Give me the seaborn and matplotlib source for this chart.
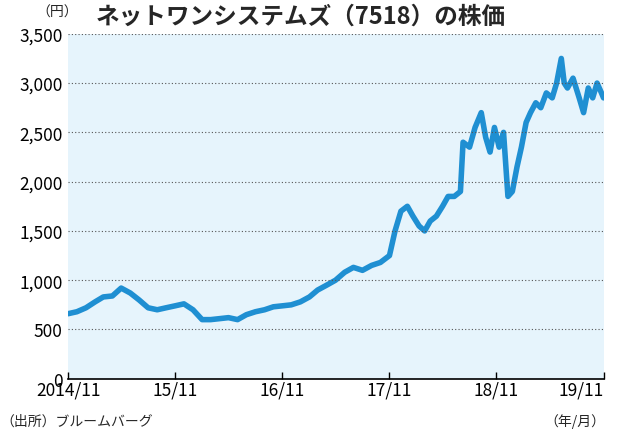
import pandas as pd
import matplotlib
matplotlib.use("Agg")
import matplotlib.pyplot as plt
import matplotlib.ticker as mticker
import seaborn as sns

# 株価（円）— チャートから読み取った概算値
dates = ["2014-11-01", "2014-12-01", "2015-01-01", "2015-02-01", "2015-03-01", "2015-04-01",
         "2015-05-01", "2015-06-01", "2015-07-01", "2015-08-01", "2015-09-01", "2015-10-01",
         "2015-11-01", "2015-12-01", "2016-01-01", "2016-02-01", "2016-03-01", "2016-04-01",
         "2016-05-01", "2016-06-01", "2016-07-01", "2016-08-01", "2016-09-01", "2016-10-01",
         "2016-11-01", "2016-12-01", "2017-01-01", "2017-02-01", "2017-03-01", "2017-04-01",
         "2017-05-01", "2017-06-01", "2017-07-01", "2017-08-01", "2017-09-01", "2017-10-01",
         "2017-11-01", "2017-11-20", "2017-12-10", "2018-01-01", "2018-01-20", "2018-02-10",
         "2018-03-01", "2018-03-20", "2018-04-10", "2018-05-01", "2018-05-20", "2018-06-10",
         "2018-07-01", "2018-07-10", "2018-08-01", "2018-08-20", "2018-09-10", "2018-09-25",
         "2018-10-10", "2018-10-25", "2018-11-10", "2018-11-25", "2018-12-10", "2018-12-25",
         "2019-01-10", "2019-01-25", "2019-02-10", "2019-02-25", "2019-03-15", "2019-04-01",
         "2019-04-20", "2019-05-10", "2019-05-25", "2019-06-10", "2019-06-20", "2019-07-01",
         "2019-07-20", "2019-08-10", "2019-08-25", "2019-09-10", "2019-09-25", "2019-10-10",
         "2019-10-25", "2019-11-01"]
prices = [660, 680, 720, 780, 830, 840,
          920, 870, 800, 720, 700, 720,
          740, 760, 700, 600, 600, 610,
          620, 600, 650, 680, 700, 730,
          740, 750, 780, 830, 900, 950,
          1000, 1080, 1130, 1100, 1150, 1180,
          1250, 1500, 1700, 1750, 1650, 1550,
          1500, 1600, 1650, 1750, 1850, 1850,
          1900, 2400, 2350, 2550, 2700, 2450,
          2300, 2550, 2350, 2500, 1850, 1900,
          2150, 2350, 2600, 2700, 2800, 2750,
          2900, 2850, 3000, 3250, 3000, 2950,
          3050, 2850, 2700, 2950, 2850, 3000,
          2900, 2850]

yticks = [0, 500, 1000, 1500, 2000, 2500, 3000, 3500]
xtick_dates = ["2014-11-01", "2015-11-01", "2016-11-01", "2017-11-01", "2018-11-01", "2019-11-01"]
xtick_labels = ["2014/11", "15/11", "16/11", "17/11", "18/11", "19/11"]

df = pd.DataFrame({"date": pd.to_datetime(dates), "price": prices})

sns.set_theme(style="white")
plt.rcParams["font.family"] = ["Noto Sans CJK JP", "DejaVu Sans"]

fig = plt.figure(figsize=(6.19, 4.35), dpi=100)
ax = fig.add_axes([0.11, 0.127, 0.865, 0.793])
ax.set_facecolor("#e6f4fc")

sns.lineplot(data=df, x="date", y="price", ax=ax, color="#1f8fd2", linewidth=4)

ax.set_ylim(0, 3500)
ax.set_xlim(pd.Timestamp("2014-11-01"), pd.Timestamp("2019-11-01"))
ax.set_yticks(yticks)
ax.yaxis.set_major_formatter(mticker.FuncFormatter(lambda v, p: f"{int(v):,}"))
ax.set_xticks(pd.to_datetime(xtick_dates))
ax.set_xticklabels(xtick_labels)
ax.tick_params(axis="both", labelsize=12.5, colors="black")
ax.tick_params(axis="x", direction="in", length=5, width=1, bottom=True, pad=1)
ax.tick_params(axis="y", length=0, pad=4)
ax.get_xticklabels()[-1].set_horizontalalignment("right")
ax.get_xticklabels()[-1].set_x(pd.Timestamp("2019-12-01"))
for v in yticks[1:]:
    ax.axhline(v, color="#555555", linestyle=(0, (1, 2)), linewidth=0.8)
for s in ["top", "right", "left"]:
    ax.spines[s].set_visible(False)
ax.spines["bottom"].set_color("black")
ax.spines["bottom"].set_linewidth(1.2)
ax.set_xlabel("")
ax.set_ylabel("")

fig.text(0.155, 0.962, "ネットワンシステムズ（7518）の株価", fontsize=17, fontweight="bold", va="center")
fig.text(0.058, 0.97, "（円）", fontsize=10, va="center")
fig.text(0.0, 0.03, "（出所）ブルームバーグ", fontsize=10, va="center")
fig.text(0.88, 0.03, "（年/月）", fontsize=10, va="center")

fig.savefig("out.png", dpi=100)
